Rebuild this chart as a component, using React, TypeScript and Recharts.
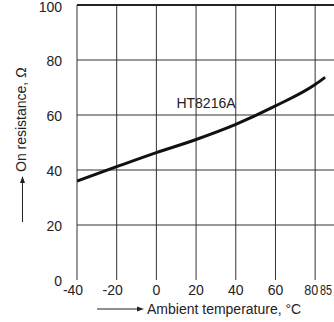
import React from 'react';
import { LineChart, Line, XAxis, YAxis, ReferenceLine, ReferenceDot } from 'recharts';

const temperatures = [-40, -20, 0, 20, 40, 60, 80, 85];
const resistance = [36, 41.2, 46.3, 51.1, 56.6, 63.3, 71.1, 73.7];
const xTicks = [-40, -20, 0, 20, 40, 60, 80, 85];
const yTicks = [0, 20, 40, 60, 80, 100];
const xGrid = [-40, -20, 0, 20, 40, 60, 80];
const yGrid = [20, 40, 60, 80];
const seriesName = 'HT8216A';

const data = temperatures.map((t, i) => ({ t, r: resistance[i] }));

const FONT = '"Liberation Sans", Arial, Helvetica, sans-serif';
const TEXT = '#222';

const XTick = (props: any) => {
  const { x, y, payload } = props;
  const v = payload.value;
  let dx = 0;
  let extra: any = {};
  if (v < 0) dx = -4;
  if (v === 80) {
    dx = -4;
    extra = { textLength: 14, lengthAdjust: 'spacingAndGlyphs' };
  }
  if (v === 85) {
    dx = 1;
    extra = { textLength: 12, lengthAdjust: 'spacingAndGlyphs' };
  }
  return (
    <text x={x + dx} y={y} dy="0.71em" textAnchor="middle" fill={TEXT} fontSize={14} fontFamily={FONT} {...extra}>
      {v}
    </text>
  );
};

const YTick = (props: any) => {
  const { x, y, payload } = props;
  const off = payload.value === 100 ? 2.5 : 1;
  return (
    <text x={x} y={y + off} dy="0.355em" textAnchor="end" fill={TEXT} fontSize={14} fontFamily={FONT}>
      {payload.value}
    </text>
  );
};

export default function App() {
  return (
    <div style={{ position: 'absolute', left: 0, top: 0, width: 334, height: 322, overflow: 'hidden', background: '#fff' }}>
      <LineChart width={335} height={322} data={data} margin={{ top: 5, right: 0, left: 0, bottom: 0 }}>
        <XAxis
          dataKey="t"
          type="number"
          domain={[-40, 90]}
          ticks={xTicks}
          axisLine={false}
          tickLine={false}
          tickSize={0}
          tickMargin={5}
          height={42}
          tick={<XTick />}
          interval={0}
          allowDataOverflow
        />
        <YAxis
          type="number"
          domain={[0, 100]}
          ticks={yTicks}
          axisLine={false}
          tickLine={false}
          tickSize={0}
          tickMargin={15}
          width={77}
          tick={<YTick />}
          interval={0}
        />
        {xGrid.map((v) => (
          <ReferenceLine key={'x' + v} x={v} stroke="#333" strokeWidth={1} />
        ))}
        {yGrid.map((v) => (
          <ReferenceLine key={'y' + v} y={v} stroke="#333" strokeWidth={1} />
        ))}
        <ReferenceLine y={100} stroke="#222" strokeWidth={2} />
        <Line
          type="monotone"
          dataKey="r"
          stroke="#111"
          strokeWidth={3}
          dot={false}
          isAnimationActive={false}
        />
        <ReferenceDot
          x={25}
          y={64.5}
          r={0}
          fill="none"
          stroke="none"
          label={{ value: seriesName, position: 'center', fill: TEXT, fontSize: 14, fontFamily: FONT }}
        />
      </LineChart>
      <svg width={334} height={322} style={{ position: 'absolute', left: 0, top: 0, pointerEvents: 'none' }}>
        <line x1={97} y1={309} x2={138} y2={309} stroke="#222" strokeWidth={1} />
        <polygon points="137,306.5 144,309 137,311.5" fill="#222" />
        <text x={147} y={314} fill={TEXT} fontSize={14} fontFamily={FONT}>
          Ambient temperature, °C
        </text>
        <line x1={22.5} y1={222} x2={22.5} y2={182} stroke="#222" strokeWidth={1} />
        <polygon points="20,183 22.5,176 25,183" fill="#222" />
        <text transform="translate(26,172) rotate(-90)" x={0} y={0} fill={TEXT} fontSize={14} fontFamily={FONT}>
          On resistance, Ω
        </text>
      </svg>
    </div>
  );
}
